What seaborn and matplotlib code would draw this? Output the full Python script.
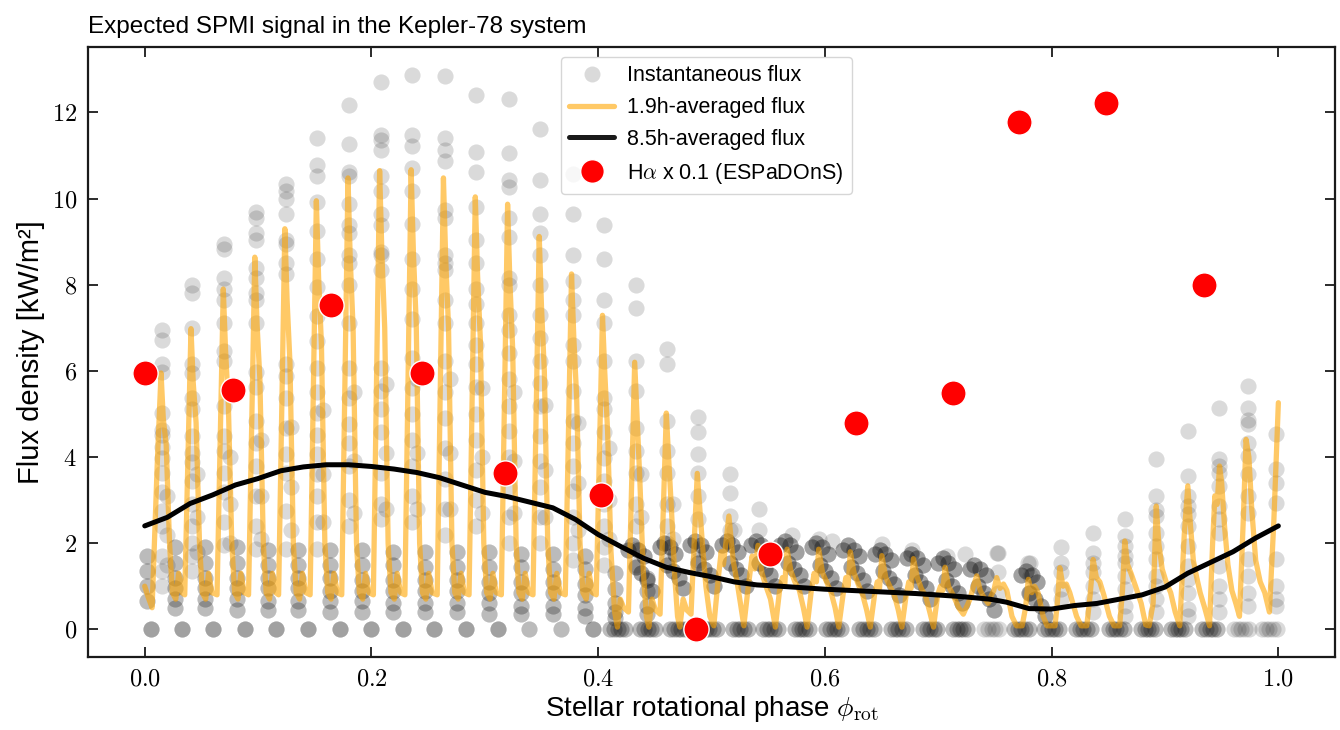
import numpy as np
import pandas as pd
import matplotlib
matplotlib.use("Agg")
import matplotlib.pyplot as plt
from matplotlib.lines import Line2D
from matplotlib.ticker import FuncFormatter, MultipleLocator
import seaborn as sns

# ---------------- data ----------------
# 1.9h-averaged flux (orange line), vertices
orange_x = [
    0.0000, 0.0030, 0.0065, 0.0110,
    0.0144, 0.0164, 0.0189, 0.0219, 0.0244, 0.0274, 0.0299, 0.0329, 0.0353,
    0.0408, 0.0428, 0.0453, 0.0483, 0.0508, 0.0538, 0.0563, 0.0593, 0.0638,
    0.0693, 0.0713, 0.0738, 0.0768, 0.0793, 0.0823, 0.0848, 0.0878, 0.0916,
    0.0971, 0.0991, 0.1016, 0.1046, 0.1071, 0.1101, 0.1126, 0.1156, 0.1181,
    0.1236, 0.1256, 0.1281, 0.1311, 0.1336, 0.1366, 0.1391, 0.1421, 0.1459,
    0.1514, 0.1534, 0.1559, 0.1589, 0.1614, 0.1644, 0.1669, 0.1699, 0.1738,
    0.1793, 0.1813, 0.1838, 0.1868, 0.1893, 0.1923, 0.1948, 0.1978, 0.2017,
    0.2072, 0.2092, 0.2117, 0.2147, 0.2172, 0.2202, 0.2227, 0.2257, 0.2295,
    0.2350, 0.2370, 0.2395, 0.2425, 0.2450, 0.2480, 0.2505, 0.2535, 0.2580,
    0.2635, 0.2655, 0.2680, 0.2710, 0.2735, 0.2765, 0.2790, 0.2820, 0.2861,
    0.2916, 0.2936, 0.2961, 0.2991, 0.3016, 0.3046, 0.3071, 0.3101, 0.3146,
    0.3201, 0.3221, 0.3246, 0.3276, 0.3301, 0.3331, 0.3356, 0.3386, 0.3425,
    0.3480, 0.3500, 0.3525, 0.3555, 0.3580, 0.3610, 0.3635, 0.3665, 0.3710,
    0.3765, 0.3785, 0.3810, 0.3840, 0.3865, 0.3895, 0.3920, 0.3950, 0.3983,
    0.4038, 0.4058, 0.4083, 0.4113, 0.4145, 0.4170, 0.4195, 0.4225, 0.4267,
    0.4322, 0.4342, 0.4367, 0.4397, 0.4425, 0.4447, 0.4475, 0.4505, 0.4546,
    0.4601, 0.4621, 0.4646, 0.4676, 0.4700, 0.4720, 0.4750, 0.4780, 0.4819,
    0.4874, 0.4894, 0.4919, 0.4950, 0.4985, 0.5020, 0.5060, 0.5085, 0.5105,
    0.5153, 0.5190, 0.5225, 0.5255, 0.5285, 0.5320, 0.5358, 0.5380,
    0.5410, 0.5445, 0.5480, 0.5520, 0.5563, 0.5600, 0.5625, 0.5645,
    0.5666, 0.5700, 0.5735, 0.5775, 0.5810, 0.5843, 0.5880, 0.5905, 0.5925,
    0.5945, 0.5980, 0.6015, 0.6055, 0.6090, 0.6122, 0.6160, 0.6185, 0.6205,
    0.6224, 0.6258, 0.6293, 0.6333, 0.6368, 0.6400, 0.6438, 0.6462, 0.6482,
    0.6502, 0.6537, 0.6572, 0.6612, 0.6647, 0.6679, 0.6717, 0.6740, 0.6760,
    0.6781, 0.6815, 0.6850, 0.6890, 0.6925, 0.6958, 0.6995, 0.7020, 0.7040,
    0.7060, 0.7090, 0.7130, 0.7180, 0.7221, 0.7280, 0.7310,
    0.7339, 0.7370, 0.7400, 0.7440, 0.7470, 0.7490,
    0.7515, 0.7545, 0.7575, 0.7605, 0.7650, 0.7690, 0.7740, 0.7770,
    0.7794, 0.7825, 0.7850, 0.7880, 0.7925, 0.7960, 0.8030, 0.8050,
    0.8072, 0.8100, 0.8130, 0.8160, 0.8220, 0.8260, 0.8310, 0.8340,
    0.8366, 0.8395, 0.8425, 0.8460, 0.8510, 0.8550, 0.8600, 0.8625,
    0.8645, 0.8670, 0.8700, 0.8740, 0.8790, 0.8830, 0.8860, 0.8895,
    0.8923, 0.8945, 0.8975, 0.9010, 0.9050, 0.9090, 0.9130, 0.9170,
    0.9201, 0.9225, 0.9250, 0.9280, 0.9310, 0.9350, 0.9393, 0.9420, 0.9440, 0.9460,
    0.9481, 0.9500, 0.9525, 0.9555, 0.9590, 0.9625, 0.9657, 0.9690,
    0.9715, 0.9740, 0.9765, 0.9800, 0.9840, 0.9880, 0.9921, 0.9960, 1.0000,
]
orange_y = [
    1.00, 0.75, 0.50, 3.80,
    5.95, 4.88, 4.30, 2.00, 0.85, 0.70, 1.30, 0.85, 0.80,
    6.98, 5.72, 4.80, 2.00, 0.85, 0.70, 1.30, 0.85, 0.80,
    7.90, 6.48, 5.20, 2.00, 0.85, 0.70, 1.30, 0.85, 0.80,
    8.64, 7.08, 5.80, 2.00, 0.85, 0.70, 1.30, 0.85, 0.80,
    9.30, 7.63, 6.20, 2.00, 0.85, 0.70, 1.30, 0.85, 0.80,
    9.95, 8.16, 6.60, 2.00, 0.85, 0.70, 1.30, 0.85, 0.80,
    10.48, 8.59, 7.00, 2.00, 0.85, 0.70, 1.30, 0.85, 0.80,
    10.65, 8.73, 7.00, 2.00, 0.85, 0.70, 1.30, 0.85, 0.80,
    10.67, 8.75, 7.10, 2.00, 0.85, 0.70, 1.30, 0.85, 0.80,
    10.48, 8.59, 7.00, 2.00, 0.85, 0.70, 1.30, 0.85, 0.80,
    10.04, 8.23, 6.70, 2.00, 0.85, 0.70, 1.30, 0.85, 0.80,
    9.87, 8.09, 6.50, 2.00, 0.85, 0.70, 1.30, 0.85, 0.80,
    9.12, 7.48, 6.00, 2.00, 0.85, 0.70, 1.30, 0.85, 0.80,
    8.25, 6.77, 5.40, 2.00, 0.85, 0.70, 1.30, 0.85, 0.80,
    7.29, 5.98, 4.60, 1.80, 0.40, 0.05, 0.70, 0.50, 0.40,
    6.20, 5.00, 3.50, 1.40, 0.30, 0.05, 0.70, 0.45, 0.35,
    5.02, 4.00, 2.80, 1.20, 0.30, 0.05, 0.70, 0.45, 0.35,
    3.62, 2.90, 2.00, 1.00, 0.30, 0.08, 1.20, 1.80, 1.50,
    2.63, 1.60, 1.10, 0.60, 0.08, 0.90, 1.70, 1.40,
    1.95, 1.30, 1.00, 0.70, 0.05, 0.90, 1.20, 1.00,
    1.86, 1.35, 1.10, 0.90, 0.50, 0.05, 0.90, 1.30, 1.10,
    1.86, 1.30, 1.10, 0.85, 0.50, 0.05, 0.80, 1.20, 1.00,
    1.80, 1.30, 1.05, 0.80, 0.45, 0.05, 0.80, 1.10, 0.95,
    1.71, 1.20, 1.00, 0.80, 0.45, 0.05, 0.80, 1.10, 0.95,
    1.64, 1.20, 0.95, 0.75, 0.40, 0.05, 0.80, 1.00, 0.90,
    1.44, 1.00, 0.80, 0.50, 0.35, 0.70, 1.00,
    1.24, 0.90, 0.75, 0.60, 0.80, 0.90,
    1.20, 0.95, 1.05, 0.90, 0.30, 0.08, 0.08, 0.50,
    1.16, 0.85, 1.00, 0.85, 0.30, 0.08, 0.08, 0.60,
    1.43, 1.00, 1.05, 0.85, 0.30, 0.08, 0.08, 0.80,
    1.62, 1.20, 1.10, 0.80, 0.30, 0.08, 0.08, 0.90,
    2.05, 1.50, 1.30, 1.00, 0.60, 0.10, 0.08, 0.60,
    2.86, 2.00, 1.40, 1.10, 0.85, 0.40, 0.08, 2.20,
    3.33, 2.40, 1.60, 1.20, 0.85, 0.50, 0.08, 2.00, 3.10, 2.90,
    3.79, 3.40, 2.40, 1.50, 0.90, 0.60, 0.30, 2.50,
    4.41, 4.00, 2.80, 1.60, 1.10, 0.85, 0.40, 2.50, 5.26,
]

# 8.5h-averaged flux (black line)
avg_x = [0.00, 0.02, 0.04, 0.06, 0.08, 0.10, 0.12, 0.14, 0.16, 0.18, 0.20,
         0.22, 0.24, 0.26, 0.28, 0.30, 0.32, 0.34, 0.36, 0.38, 0.40, 0.42,
         0.44, 0.46, 0.48, 0.50, 0.52, 0.54, 0.56, 0.60, 0.64, 0.68, 0.72,
         0.745, 0.76, 0.78, 0.80, 0.82, 0.84, 0.86, 0.88, 0.90, 0.92, 0.94,
         0.96, 0.98, 1.00]
avg_y = [2.40, 2.60, 2.92, 3.12, 3.35, 3.50, 3.68, 3.77, 3.82, 3.82, 3.78,
         3.72, 3.64, 3.52, 3.35, 3.18, 3.08, 2.95, 2.82, 2.55, 2.20, 1.92,
         1.65, 1.44, 1.32, 1.22, 1.10, 1.03, 1.00, 0.93, 0.88, 0.83, 0.76,
         0.70, 0.63, 0.48, 0.47, 0.55, 0.60, 0.70, 0.80, 0.98, 1.30, 1.55,
         1.80, 2.12, 2.40]

# H-alpha x 0.1 (ESPaDOnS)
ha_x = [0.0, 0.0783, 0.1646, 0.2447, 0.3178, 0.4023, 0.4859, 0.5519,
        0.6276, 0.7130, 0.7711, 0.8477, 0.9340]
ha_y = [5.94, 5.55, 7.52, 5.94, 3.64, 3.11, 0.0, 1.74, 4.78, 5.48,
        11.77, 12.21, 7.99]

# Instantaneous flux: vertical columns of samples
col_x = [0.0154, 0.0418, 0.0703, 0.0981, 0.1246, 0.1524, 0.1803, 0.2082,
         0.2360, 0.2645, 0.2926, 0.3211, 0.3490, 0.3775, 0.4048, 0.4332,
         0.4611, 0.4884, 0.5163, 0.5420,
         0.7529, 0.7810, 0.8087, 0.8366, 0.8644, 0.8923, 0.9201, 0.9475,
         0.9730, 0.9979]
col_y = [
    [6.94, 6.72, 6.15, 5.98, 5.02, 4.63, 4.50, 4.23, 3.97, 3.62, 3.18, 2.75, 2.40, 1.70, 1.35, 1.0],
    [7.99, 7.81, 7.00, 6.15, 5.95, 5.37, 5.11, 4.49, 4.10, 3.88, 3.45, 2.92, 2.40, 2.00, 1.70, 1.35],
    [8.95, 8.82, 8.16, 7.90, 7.64, 7.11, 6.46, 6.24, 5.19, 4.49, 4.14, 3.62, 3.18, 2.48, 1.96],
    [9.69, 9.56, 9.21, 9.04, 8.38, 8.16, 7.81, 7.64, 7.11, 5.98, 5.63, 4.84, 4.32, 3.80, 3.10, 2.40, 1.87],
    [10.35, 10.17, 10.00, 9.65, 9.04, 8.95, 8.51, 8.25, 6.15, 5.89, 5.37, 4.67, 4.06, 3.62, 2.75, 1.87],
    [11.40, 10.78, 10.52, 9.91, 9.25, 8.60, 7.95, 7.28, 6.70, 6.06, 5.50, 5.02, 4.50, 4.06, 3.60, 3.10, 2.50, 1.87],
    [12.18, 11.27, 10.61, 10.52, 9.87, 9.39, 9.21, 8.69, 8.51, 7.99, 7.11, 6.07, 5.37, 4.76, 4.32, 3.80, 3.01, 2.40],
    [12.71, 11.48, 11.35, 11.13, 10.52, 10.17, 9.65, 9.39, 8.77, 8.69, 8.34, 6.07, 5.54, 5.11, 4.58, 3.62, 2.92, 2.57],
    [12.88, 11.48, 11.22, 10.70, 10.17, 9.40, 8.60, 7.90, 7.20, 6.30, 5.60, 5.00, 4.40, 3.80, 3.10, 2.50],
    [12.84, 11.40, 11.13, 10.87, 9.74, 9.56, 8.69, 8.51, 8.34, 7.64, 7.11, 6.24, 5.50, 4.90, 4.20, 3.50, 2.80, 2.20],
    [12.40, 11.09, 10.61, 9.80, 9.04, 8.51, 7.90, 7.55, 7.11, 6.59, 6.15, 5.63, 5.00, 4.40, 3.70, 3.00, 2.40],
    [12.31, 11.05, 10.43, 10.26, 9.56, 9.12, 8.16, 7.99, 7.29, 6.94, 6.42, 5.80, 5.19, 4.60, 4.00, 3.30, 2.60, 2.00],
    [11.61, 10.43, 9.65, 9.21, 8.69, 7.99, 7.29, 6.77, 6.24, 5.72, 5.19, 4.49, 3.90, 3.30, 2.60, 2.00],
    [10.57, 9.65, 8.69, 8.08, 7.64, 7.29, 6.59, 6.24, 5.54, 4.84, 4.32, 3.80, 3.20, 2.60, 2.00, 1.60],
    [9.39, 8.60, 7.64, 7.11, 6.24, 5.37, 5.11, 4.58, 3.97, 3.45, 2.90, 2.40, 1.90, 1.50],
    [7.99, 7.46, 6.24, 5.54, 4.67, 4.14, 3.62, 2.92, 2.40, 1.87, 1.50],
    [6.50, 6.15, 4.84, 4.14, 3.62, 2.92, 2.40, 2.00, 1.60],
    [4.93, 4.58, 4.06, 3.62, 3.10, 2.57, 1.87, 1.60],
    [3.60, 3.17, 2.63, 2.30],
    [2.79, 2.30],
    [1.78, 1.32, 0.85],
    [1.55, 1.24, 0.85],
    [1.90, 1.55, 1.32, 0.93, 0.70],
    [2.24, 1.78, 1.55, 1.32, 1.01, 0.70, 0.39],
    [2.55, 2.17, 1.93, 1.70, 1.55, 1.24, 0.93, 0.54, 0.31],
    [3.95, 3.09, 2.78, 2.63, 2.24, 1.93, 1.62, 1.24, 1.01, 0.70, 0.39],
    [4.60, 3.56, 3.09, 2.86, 2.67, 2.40, 1.93, 1.47, 1.16, 0.85, 0.46, 0.31],
    [5.14, 3.95, 3.79, 3.64, 3.33, 2.86, 2.55, 2.24, 1.47, 1.01, 0.70, 0.39],
    [5.65, 5.14, 4.87, 4.76, 4.33, 4.02, 3.60, 3.09, 2.71, 1.62, 1.24, 0.85, 0.54],
    [4.53, 3.71, 3.40, 2.94, 1.62, 1.01, 0.70, 0.54],
]

# samples on the decaying side of each pulse
desc_x = [0.0199, 0.0463, 0.0748, 0.1026, 0.1291, 0.1569, 0.1848, 0.2127,
          0.2405, 0.2690, 0.2971, 0.3256, 0.3535, 0.3820, 0.4093, 0.4377,
          0.4656]
desc_y = [
    [3.1, 2.2, 1.5], [3.6, 2.6, 1.8], [4.0, 2.9, 2.0], [4.4, 3.1, 2.1],
    [4.7, 3.3, 2.3], [5.1, 3.6, 2.5], [5.5, 3.9, 2.7], [5.7, 4.1, 2.8],
    [5.8, 4.1, 2.8], [5.8, 4.1, 2.8], [5.6, 4.0, 2.7], [5.5, 3.9, 2.7],
    [5.2, 3.7, 2.6], [4.8, 3.4, 2.3], [4.2, 3.0, 2.1], [3.6, 2.6], [2.9, 2.1],
]

# low samples clustered in the troughs (each value is a pair of samples)
trough_x = [0.0020, 0.0264, 0.0528, 0.0813, 0.1091, 0.1356, 0.1634, 0.1913,
            0.2192, 0.2470, 0.2755, 0.3036, 0.3321, 0.3600, 0.3885, 0.4150,
            0.4430]
trough_y = [
    [1.70, 1.35, 1.00, 0.65],
    [1.90, 1.55, 1.20, 0.95, 0.70, 0.50],
    [1.90, 1.55, 1.20, 0.95, 0.70, 0.50],
    [1.90, 1.55, 1.20, 0.95, 0.70, 0.45],
    [1.85, 1.50, 1.20, 0.95, 0.65, 0.45],
    [1.85, 1.50, 1.20, 0.95, 0.65, 0.45],
    [1.85, 1.50, 1.20, 0.90, 0.65, 0.40],
    [1.85, 1.50, 1.15, 0.90, 0.65, 0.40],
    [1.80, 1.50, 1.15, 0.90, 0.60, 0.40],
    [1.80, 1.45, 1.15, 0.90, 0.60, 0.40],
    [1.80, 1.45, 1.15, 0.90, 0.60, 0.40],
    [1.80, 1.45, 1.10, 0.85, 0.60, 0.35],
    [1.75, 1.45, 1.10, 0.85, 0.55, 0.35],
    [1.75, 1.40, 1.10, 0.85, 0.55, 0.35],
    [1.70, 1.40, 1.05, 0.80, 0.50, 0.30],
    [1.30, 0.93, 0.60, 0.40, 0.25],
    [1.20, 0.90, 0.55, 0.35],
]

# dense band of samples in the low-flux half of the rotation
band_x = [
    0.4262, 0.4302, 0.4352, 0.4402, 0.4332, 0.4382, 0.4432, 0.4472,
    0.4541, 0.4581, 0.4631, 0.4681, 0.4611, 0.4661, 0.4711, 0.4751,
    0.4814, 0.4854, 0.4904, 0.4954, 0.4884, 0.4934, 0.4984, 0.5024,
    0.5093, 0.5133, 0.5183, 0.5233, 0.5163, 0.5213, 0.5263, 0.5303,
    0.5350, 0.5390, 0.5440, 0.5490, 0.5420, 0.5470, 0.5520, 0.5560,
    0.5606, 0.5646, 0.5696, 0.5746, 0.5676, 0.5726, 0.5776, 0.5816,
    0.5885, 0.5925, 0.5975, 0.6025, 0.5955, 0.6005, 0.6055, 0.6095,
    0.6164, 0.6204, 0.6254, 0.6304, 0.6234, 0.6284, 0.6334, 0.6374,
    0.6442, 0.6482, 0.6532, 0.6582, 0.6512, 0.6562, 0.6612, 0.6652,
    0.6721, 0.6761, 0.6811, 0.6861, 0.6791, 0.6841, 0.6891, 0.6931,
    0.7000, 0.7040, 0.7090, 0.7140, 0.7070, 0.7120, 0.7170, 0.7210,
    0.7279, 0.7319, 0.7369, 0.7419, 0.7349, 0.7399, 0.7449, 0.7489,
    0.7734, 0.7774, 0.7824, 0.7874, 0.7804, 0.7854, 0.7904, 0.7944,
]
band_y = [
    1.85, 1.95, 1.85, 1.70, 1.45, 1.30, 1.15, 0.90,
    1.90, 2.00, 1.90, 1.75, 1.50, 1.35, 1.20, 0.95,
    1.95, 2.05, 1.95, 1.80, 1.55, 1.40, 1.25, 1.00,
    1.95, 2.05, 1.95, 1.80, 1.55, 1.40, 1.25, 1.00,
    1.95, 2.05, 1.95, 1.80, 1.55, 1.40, 1.25, 1.00,
    1.95, 2.05, 1.95, 1.80, 1.55, 1.40, 1.25, 1.00,
    1.90, 2.00, 1.90, 1.75, 1.50, 1.35, 1.20, 0.95,
    1.85, 1.95, 1.85, 1.70, 1.45, 1.30, 1.15, 0.90,
    1.75, 1.85, 1.75, 1.60, 1.35, 1.20, 1.05, 0.80,
    1.65, 1.75, 1.65, 1.50, 1.25, 1.10, 0.95, 0.70,
    1.55, 1.65, 1.55, 1.40, 1.15, 1.00, 0.85, 0.60,
    1.40, 1.50, 1.40, 1.25, 1.00, 0.85, 0.70, 0.45,
    1.25, 1.35, 1.25, 1.10, 0.85, 0.70, 0.55, 0.30,
]
sparse_x = [0.5200, 0.5710, 0.5950, 0.6060, 0.6502, 0.6767, 0.7075, 0.7236,
            0.7515, 0.7793]
sparse_y = [2.30, 2.20, 2.10, 2.05, 1.98, 1.85, 1.70, 1.74, 1.78, 1.55]

# samples at zero flux: isolated points, then wide dark clumps
zero_x = [0.0053, 0.0326, 0.0605, 0.0884, 0.1162, 0.1441, 0.1720, 0.1998,
          0.2277, 0.2556, 0.2835, 0.3114, 0.3392, 0.3671, 0.3950]
zero_n = [3, 3, 3, 3, 3, 3, 3, 3, 3, 3, 3, 3, 2, 2, 3]
clump_x = [0.4173, 0.4437, 0.4701, 0.4980, 0.5255, 0.5519, 0.5798, 0.6077,
           0.6370, 0.6649, 0.6928, 0.7192, 0.7470, 0.7734, 0.8000, 0.8278,
           0.8571, 0.8850, 0.9114, 0.9393, 0.9672, 0.9921]
clump_n = [2, 2, 2, 2, 2, 2, 2, 2, 2, 2, 2, 2, 1, 2, 2, 2, 2, 2, 2, 2, 1, 1]
clump_offsets = [-0.0065, -0.003, 0.0, 0.003, 0.0065]

# ---------------- assemble tables ----------------
gx, gy = [], []
for cx, ys in zip(col_x, col_y):
    gx += [cx] * len(ys); gy += ys
for cx, ys in zip(desc_x, desc_y):
    gx += [cx] * len(ys); gy += ys
for cx, ys in zip(trough_x, trough_y):
    gx += [cx] * (2 * len(ys)); gy += ys + ys
for xx, yy in zip(band_x, band_y):
    gx += [xx] * 3; gy += [yy] * 3
gx += sparse_x; gy += sparse_y
for cx, n in zip(zero_x, zero_n):
    gx += [cx] * n; gy += [0.0] * n
for cx, n in zip(clump_x, clump_n):
    for off in clump_offsets:
        gx += [cx + off] * n; gy += [0.0] * n
inst = pd.DataFrame({"phase": gx, "flux": gy})
fast = pd.DataFrame({"phase": orange_x, "flux": orange_y})
slow = pd.DataFrame({"phase": avg_x, "flux": avg_y})
halpha = pd.DataFrame({"phase": ha_x, "flux": ha_y})

# ---------------- style ----------------
sns.set_theme(style="ticks")
plt.rcParams["font.family"] = ["Liberation Sans", "DejaVu Sans"]
plt.rcParams["mathtext.fontset"] = "cm"
plt.rcParams["xtick.direction"] = "in"
plt.rcParams["ytick.direction"] = "in"
plt.rcParams["xtick.top"] = True
plt.rcParams["ytick.right"] = True
for key in ["text.color", "axes.labelcolor", "xtick.color", "ytick.color",
            "axes.edgecolor"]:
    plt.rcParams[key] = "black"

fig = plt.figure(figsize=(13.4, 7.3), dpi=100)
ax = fig.add_axes([0.0657, 0.100, 0.9306, 0.8356])

sns.scatterplot(data=inst, x="phase", y="flux", color="k", alpha=0.16,
                s=135, linewidth=0, ax=ax, legend=False, zorder=1)
sns.lineplot(data=fast, x="phase", y="flux", sort=False, estimator=None,
             color="orange", alpha=0.6, lw=3.8, ax=ax, zorder=2)
sns.lineplot(data=slow, x="phase", y="flux", sort=False, estimator=None,
             color="black", lw=3.6, ax=ax, zorder=3)
sns.scatterplot(data=halpha, x="phase", y="flux", color="red", s=330,
                edgecolor="white", linewidth=1.0, ax=ax, legend=False, zorder=4)

ax.set_xlim(-0.05, 1.05)
ax.set_ylim(-0.644, 13.52)
ax.xaxis.set_major_locator(MultipleLocator(0.2))
ax.yaxis.set_major_locator(MultipleLocator(2))
ax.xaxis.set_major_formatter(FuncFormatter(lambda v, p: f"${v:.1f}$"))
ax.yaxis.set_major_formatter(FuncFormatter(lambda v, p: f"${v:.0f}$"))
ax.tick_params(axis="both", which="major", length=7, width=1.3,
               labelsize=17.5, pad=8, color="k")
for sp in ax.spines.values():
    sp.set_linewidth(1.6)
    sp.set_color("k")

ax.set_xlabel(r"Stellar rotational phase $\phi_{\rm rot}$", fontsize=20, labelpad=3)
ax.set_ylabel("Flux density [kW/m²]", fontsize=21, labelpad=5)
ax.set_title("Expected SPMI signal in the Kepler-78 system", loc="left",
             fontsize=17.5, pad=10)

handles = [
    Line2D([], [], marker="o", ls="none", color="k", alpha=0.16,
           markersize=11.5, markeredgewidth=0),
    Line2D([], [], color="orange", alpha=0.6, lw=3.8),
    Line2D([], [], color="k", lw=3.6),
    Line2D([], [], marker="o", ls="none", markerfacecolor="red",
           markeredgecolor="white", markersize=17),
]
labels = ["Instantaneous flux", "1.9h-averaged flux", "8.5h-averaged flux",
          r"H$\alpha$ x 0.1 (ESPaDOnS)"]
ax.legend(handles, labels, loc="upper left", bbox_to_anchor=(0.379, 0.984),
          borderaxespad=0, fontsize=15.5, handlelength=2.1, handletextpad=0.6,
          labelspacing=0.5, borderpad=0.4,
          frameon=True, fancybox=True, edgecolor="0.8", framealpha=0.8)

fig.savefig("out.png", dpi=100)
